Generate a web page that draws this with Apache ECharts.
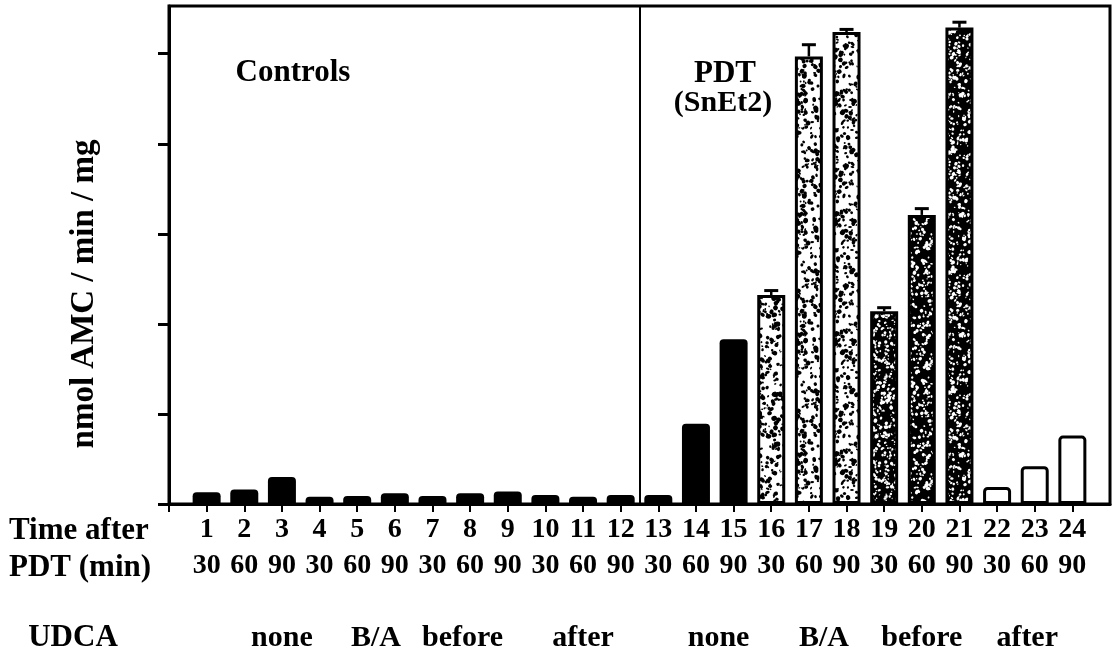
<!DOCTYPE html>
<html><head><meta charset="utf-8">
<script src="https://cdn.jsdelivr.net/npm/echarts@6/dist/echarts.min.js"></script>
<style>html,body{margin:0;padding:0;background:#fff}#c{width:1114px;height:656px}</style>
</head><body><div id="c"></div>
<script>
// ---- data ----
const barNumbers = [1,2,3,4,5,6,7,8,9,10,11,12,13,14,15,16,17,18,19,20,21,22,23,24];
const minutes    = [30,60,90,30,60,90,30,60,90,30,60,90,30,60,90,30,60,90,30,60,90,30,60,90];
const treatment  = ['control','control','control','control','control','control','control','control','control','control','control','control',
                    'pdt','pdt','pdt','pdt','pdt','pdt','pdt','pdt','pdt','pdt','pdt','pdt'];
const udca       = ['none','none','none','B/A','B/A','B/A','before','before','before','after','after','after',
                    'none','none','none','B/A','B/A','B/A','before','before','before','after','after','after'];
const activity   = [1.3,1.6,3.0,0.8,0.9,1.2,0.9,1.2,1.4,1.0,0.8,1.0,1.0,8.9,18.3,23.2,49.7,52.4,21.4,32.1,52.9,1.9,4.2,7.6];
const errors     = [0,0,0,0,0,0,0,0,0,0,0,0,0,0,0,0.5,1.3,0.3,0.4,0.7,0.6,0,0,0];
const yTicks     = [0,10,20,30,40,50];
const groupLabels = ['none','B/A','before','after','none','B/A','before','after'];
const yMax = 55.3;

// ---- layout / style ----
const FONT = '"Liberation Serif", "DejaVu Serif", serif';
const groupLabelX = [3.0, 5.5, 7.8, 11.0, 14.6, 17.4, 20.0, 22.8];

function makePattern(bg, fg, count, seed, rad) {
  const S = 120, c = document.createElement('canvas');
  c.width = c.height = S;
  const g = c.getContext('2d');
  g.fillStyle = bg; g.fillRect(0, 0, S, S);
  let s = seed;
  const rnd = () => { s = (s * 16807) % 2147483647; return s / 2147483647; };
  g.fillStyle = fg;
  for (let k = 0; k < count; k++) {
    const x = rnd() * S, y = rnd() * S, r = rad * (0.5 + rnd());
    const ry = r * (0.5 + rnd() * 0.7), rot = rnd() * Math.PI;
    for (const dx of [-S, 0, S]) for (const dy of [-S, 0, S]) {
      g.beginPath();
      g.ellipse(x + dx, y + dy, r, ry, rot, 0, 2 * Math.PI);
      g.fill();
    }
  }
  return c;
}
const lightPat = makePattern('#ffffff', '#000000', 650, 12345, 1.7);
const darkPat  = makePattern('#000000', '#ffffff', 950, 777, 1.25);

function styleFor(i) {
  if (treatment[i] === 'control' || udca[i] === 'none') return { color: '#000', borderRadius: [4, 4, 0, 0] };
  if (udca[i] === 'B/A') return { color: { image: lightPat, repeat: 'repeat' }, borderColor: '#000', borderWidth: 3 };
  if (udca[i] === 'before') return { color: { image: darkPat, repeat: 'repeat' }, borderColor: '#000', borderWidth: 3 };
  return { color: '#fff', borderColor: '#000', borderWidth: 3, borderRadius: [3, 3, 0, 0] };
}

const chart = echarts.init(document.getElementById('c'), null, { renderer: 'canvas' });
const option = {
  animation: false,
  backgroundColor: '#fff',
  grid: { left: 169, right: 4, top: 6, bottom: 152, show: true, borderColor: '#000', borderWidth: 3, backgroundColor: 'transparent' },
  xAxis: {
    type: 'value', min: 0, max: 25,
    splitLine: { show: false },
    axisLine: { show: true, onZero: false, lineStyle: { color: '#000', width: 3 } },
    axisTick: { show: true, customValues: [0].concat(barNumbers), length: 8, lineStyle: { color: '#000', width: 2 } },
    axisLabel: {
      customValues: barNumbers, margin: 8,
      formatter: v => '{n|' + v + '}\n{m|' + minutes[barNumbers.indexOf(v)] + '}',
      rich: {
        n: { fontFamily: FONT, fontSize: 28, fontWeight: 'bold', color: '#000', lineHeight: 36 },
        m: { fontFamily: FONT, fontSize: 28, fontWeight: 'bold', color: '#000', lineHeight: 36 }
      }
    }
  },
  yAxis: {
    type: 'value', min: 0, max: yMax,
    splitLine: { show: false },
    axisLine: { show: true, lineStyle: { color: '#000', width: 3 } },
    axisTick: { show: true, customValues: yTicks, length: 11, lineStyle: { color: '#000', width: 3 } },
    axisLabel: { show: false }
  },
  series: [
    {
      type: 'bar', barWidth: 28,
      data: barNumbers.map((n, i) => ({ value: [n, activity[i]], itemStyle: styleFor(i) })),
      markLine: {
        silent: true, symbol: 'none', label: { show: false },
        lineStyle: { color: '#000', width: 2, type: 'solid' },
        data: [{ xAxis: 12.5 }]
      }
    },
    {
      type: 'custom', z: 5,
      data: barNumbers.map((n, i) => [n, activity[i], errors[i]]).filter(d => d[2] > 0),
      renderItem: (params, api) => {
        const x = api.value(0), y = api.value(1), e = api.value(2);
        const p1 = api.coord([x, y]), p2 = api.coord([x, y + e]);
        return { type: 'group', children: [
          { type: 'line', shape: { x1: p1[0], y1: p1[1], x2: p2[0], y2: p2[1] }, style: { stroke: '#000', lineWidth: 2.5 } },
          { type: 'line', shape: { x1: p2[0] - 7, y1: p2[1], x2: p2[0] + 7, y2: p2[1] }, style: { stroke: '#000', lineWidth: 3 } }
        ] };
      }
    }
  ]
};
chart.setOption(option);

const txt = (text, x, y, size, align) => ({
  type: 'text', x, y,
  style: { text, fontFamily: FONT, fontSize: size, fontWeight: 'bold', fill: '#000', align: align || 'center', verticalAlign: 'middle' }
});

const rowY = 638;
const graphics = [
  txt('Controls', 293, 73, 31),
  txt('PDT', 725, 74, 31),
  txt('(SnEt2)', 723, 103, 30),
  txt('Time after', 9, 531, 31, 'left'),
  txt('PDT (min)', 9, 568, 31, 'left'),
  txt('UDCA', 73, rowY, 31),
  { type: 'text', x: 84, y: 294, rotation: Math.PI / 2,
    style: { text: 'nmol AMC / min / mg', fontFamily: FONT, fontSize: 33, fontWeight: 'bold', fill: '#000', align: 'center', verticalAlign: 'middle' } }
];
groupLabels.forEach((g, k) => {
  const px = chart.convertToPixel({ xAxisIndex: 0 }, groupLabelX[k]);
  graphics.push(txt(g, px, rowY, 30));
});
chart.setOption({ graphic: graphics });
</script>
</body></html>
